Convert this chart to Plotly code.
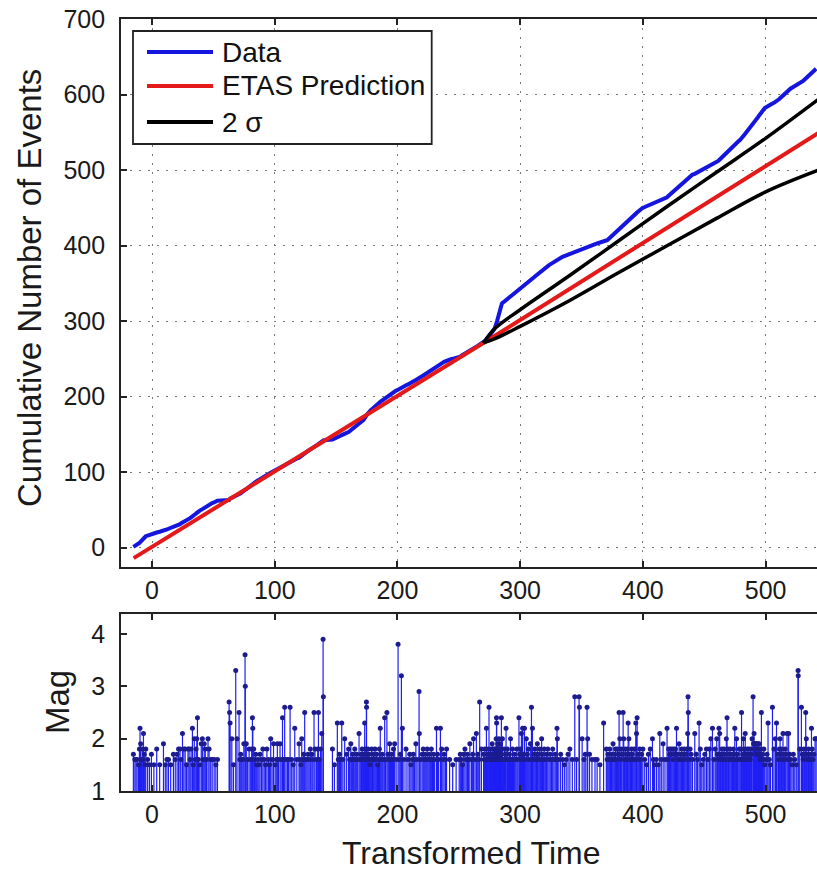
import plotly.graph_objects as go

# ---------------- data ----------------
event_time = [
    -15.2, -14.0, -13.1, -12.2, -11.0, -10.3,
    -9.8, -9.3, -8.6, -8.0, -7.4, -7.0, -6.3, -5.6, -5.1,
    -3.6, -2.1, -0.5,
    1.5, 3.8, 6.2, 9.3,
    10.8, 12.1, 13.4, 15.2, 17.4, 18.9,
    20.4, 21.6, 22.8, 23.5, 24.8, 25.9, 27.0, 28.1, 29.3,
    30.2, 31.0, 31.8, 32.9, 33.6, 34.4, 35.1, 35.9, 36.5, 37.0, 37.8, 38.9,
    40.1, 41.0, 41.7, 42.5, 43.4, 44.3, 45.6, 46.5, 47.8, 49.0,
    50.6, 52.0, 53.3,
    62.8, 63.2, 63.6, 65.0, 66.4, 68.2, 69.2,
    70.9, 71.5, 72.3, 73.1, 74.0, 74.8, 75.8, 76.0, 76.8, 77.9, 79.1,
    80.4, 81.2, 81.8, 82.1, 82.9, 83.6, 84.5, 85.3, 86.2, 87.1, 88.0, 89.2,
    90.3, 91.4, 92.5, 93.6, 94.8, 95.7, 96.7, 97.8, 99.0,
    100.3, 101.2, 102.1, 103.0, 104.3, 105.2, 106.3, 107.2, 108.1, 109.2,
    110.4, 111.3, 112.5, 113.8, 115.0, 116.3, 118.0, 119.8,
    120.5, 121.3, 122.0, 122.8, 123.6, 124.4, 125.3, 126.2, 127.1, 128.0, 129.0,
    130.2, 131.0, 132.0, 132.8, 134.0, 135.0, 135.6, 136.4, 137.3, 138.3, 139.4, 139.6,
    147.0, 148.6,
    151.0, 151.8, 152.7, 153.6, 154.6, 155.6, 157.0, 158.6,
    160.2, 161.0, 162.0, 162.7, 163.5, 164.3, 165.2, 166.0, 166.8, 167.6, 168.7, 169.5,
    170.2, 170.7, 171.2, 171.7, 172.2, 172.7, 173.3, 173.7, 174.1, 174.7, 174.8, 175.2, 175.6, 176.0, 176.5, 177.0, 177.6, 178.2, 179.0, 179.6,
    180.3, 181.0, 181.7, 182.4, 183.1, 183.8, 184.5, 185.3, 186.0, 186.8, 187.6, 188.4, 189.6,
    190.3, 191.4, 192.2, 192.9, 193.6, 194.4, 195.2, 196.0, 196.8, 197.7, 198.9,
    200.5, 201.4, 202.3, 203.2, 204.0, 205.3, 207.0, 208.6,
    210.0, 211.0, 212.0, 212.9, 213.8, 215.0, 216.0, 217.6, 217.8, 219.0,
    220.1, 221.0, 221.8, 222.6, 223.4, 224.2, 225.0, 225.9, 226.8, 227.6, 228.5, 229.4,
    230.3, 231.8, 232.6, 233.5, 235.0, 236.0, 237.0, 238.0, 239.2,
    240.0, 242.5, 245.0, 247.8,
    250.3, 251.2, 252.1, 253.0, 254.0, 255.0, 256.0, 257.0, 258.0, 259.0,
    260.4, 261.3, 262.0, 263.2, 264.3, 265.4, 266.3, 267.0, 268.4,
    270.2, 270.7, 271.2, 271.7, 272.5, 273.0, 273.5, 274.0, 274.6, 275.0, 275.4, 275.9, 276.3, 276.8, 277.2, 277.6, 278.0, 278.4, 278.8, 279.1, 279.4, 279.7,
    280.0, 280.2, 280.4, 280.6, 280.7, 280.8, 281.0, 281.2, 281.4, 281.5, 281.7, 281.9, 282.0, 282.2, 282.4, 282.5, 282.7, 282.9, 283.0, 283.2, 283.4, 283.5, 283.7, 283.9, 284.0, 284.2, 284.4, 284.5, 284.7, 284.8, 285.0, 285.5, 286.4, 287.2, 288.0, 288.5, 289.2, 289.7,
    290.5, 291.3, 292.1, 292.9, 293.8, 294.6, 295.5, 296.4, 297.3, 298.1, 299.0, 299.6,
    300.2, 301.0, 301.6, 302.0, 302.8, 303.5, 304.2, 305.0, 305.8, 306.6, 307.4, 308.3, 309.2,
    310.0, 310.6, 311.3, 312.0, 312.7, 313.3, 314.0, 314.6, 315.3, 316.0, 316.7, 317.5, 318.2, 318.9, 319.6,
    320.5, 321.5, 322.5, 323.5, 324.5, 325.5, 326.5, 327.5, 328.5, 329.4,
    330.0, 330.3, 331.5, 333.0, 334.5, 336.0, 337.5, 339.0,
    340.5, 342.5, 344.5, 346.0, 348.0, 348.3,
    350.5, 352.0, 353.0, 354.5, 355.0, 356.5, 358.5,
    361.0, 362.7, 365.0, 368.0,
    370.2, 370.9, 371.6, 372.3, 373.0, 373.7, 374.4, 375.0, 375.7, 376.4, 377.1, 377.8, 378.5, 379.3,
    380.0, 380.6, 381.2, 381.8, 382.4, 383.0, 383.9, 384.4, 385.0, 385.6, 386.2, 386.8, 387.4, 388.0, 388.6, 389.3,
    390.0, 390.7, 391.4, 392.1, 392.8, 393.5, 394.2, 394.8, 395.3, 396.0, 396.7, 397.4, 398.1, 399.0,
    400.0, 401.5, 403.0, 404.5, 406.0, 407.8, 408.6, 409.5,
    411.0, 412.5, 413.8, 415.0, 416.5, 418.0, 419.7,
    420.3, 421.0, 421.7, 422.4, 423.1, 423.8, 424.5, 425.2, 425.9, 426.6, 427.4, 428.1, 428.8, 429.5,
    430.2, 430.9, 431.6, 432.3, 433.0, 433.7, 434.4, 435.1, 435.8, 436.5, 436.8, 437.0, 437.7, 438.5, 439.3,
    440.5, 442.3, 443.5, 444.5, 445.8, 446.8, 448.0, 449.2,
    450.5, 451.8, 453.0, 454.2, 455.4, 456.7, 457.8, 459.0,
    460.2, 460.8, 461.4, 462.0, 462.6, 463.2, 463.8, 464.4, 465.0, 465.6, 466.2, 466.8, 467.4, 468.0, 468.6, 469.2, 469.8,
    470.3, 471.0, 471.7, 472.4, 473.1, 473.8, 474.4, 474.9, 475.6, 476.3, 477.0, 477.7, 478.5, 479.3,
    480.0, 480.4, 480.9, 481.4, 481.9, 482.4, 482.9, 483.4, 483.9, 484.4, 484.9, 485.4, 485.9, 486.4, 486.9, 487.4, 487.9, 488.4, 489.0, 489.8,
    490.2, 490.6, 491.0, 491.4, 491.8, 492.2, 492.6, 493.0, 493.4, 493.8, 494.2, 494.6, 495.0, 495.4, 495.8, 496.2, 496.6, 497.0, 497.5, 498.0, 498.6, 499.3,
    500.4, 501.2, 502.0, 503.0, 504.0, 505.6, 506.8, 508.0, 508.9,
    510.0, 510.6, 511.2, 511.8, 512.4, 513.0, 513.6, 514.2, 514.8, 515.4, 516.0, 516.6, 517.5, 518.2, 518.8, 519.5,
    520.5, 521.5, 522.6, 523.8, 525.0, 526.5, 526.6, 527.8, 529.2,
    530.0, 530.6, 531.2, 531.8, 532.7, 533.2, 533.8, 534.4, 535.0, 535.6, 536.2, 536.8, 537.4, 538.0, 538.7, 539.4,
    540.3, 541.2,
]

event_mag = [
    1.7, 1.6, 1.6, 1.6, 1.5, 1.8,
    2.2, 1.9, 1.6, 1.8, 1.6, 2.1, 1.7, 1.5, 1.8,
    1.6, 1.5, 1.7,
    1.5, 1.8, 1.5, 1.9,
    1.5, 1.6, 1.6, 1.5, 1.7, 1.6,
    1.7, 1.8, 1.8, 1.6, 2.1, 1.8, 1.8, 1.5, 1.8,
    1.8, 1.6, 1.8, 2.2, 1.5, 2.0, 1.6, 1.8, 2.0, 2.4, 1.6, 1.5,
    1.9, 2.0, 1.6, 1.9, 1.8, 1.6, 2.0, 1.8, 1.6, 1.6,
    1.6, 1.5, 1.6,
    2.7, 2.5, 2.3, 2.0, 1.5, 3.3, 2.0,
    2.5, 1.6, 1.7, 1.6, 1.6, 1.9, 3.6, 3.0, 1.9, 1.6, 1.8,
    1.6, 1.8, 2.4, 2.2, 1.8, 1.6, 1.7, 1.5, 1.6, 1.5, 1.7, 1.6,
    1.8, 1.6, 1.5, 1.8, 1.6, 1.5, 2.0, 1.6, 1.9,
    1.5, 1.6, 1.9, 1.6, 1.9, 1.6, 2.4, 1.6, 2.6, 1.6,
    1.6, 1.6, 2.6, 1.6, 1.5, 2.2, 1.6, 1.9,
    1.6, 1.5, 2.0, 1.6, 1.7, 2.5, 1.6, 1.6, 1.7, 1.6, 1.8,
    1.7, 1.6, 2.5, 1.8, 1.6, 1.8, 2.5, 1.6, 1.8, 2.1, 3.9, 2.8,
    1.8, 1.5,
    2.3, 1.6, 1.7, 1.6, 2.3, 1.6, 2.0, 1.7,
    1.8, 1.6, 1.9, 1.6, 1.7, 1.6, 1.8, 1.6, 1.7, 1.6, 2.1, 1.6,
    1.7, 1.6, 1.8, 1.6, 1.7, 1.6, 2.3, 1.8, 1.6, 2.7, 2.6, 1.7, 1.6, 1.8, 1.6, 1.7, 1.5, 1.6, 1.8, 1.6,
    1.7, 1.6, 1.8, 1.6, 1.7, 1.5, 1.6, 1.8, 2.2, 1.6, 1.7, 1.6, 2.4,
    1.6, 2.5, 1.7, 1.6, 1.9, 1.6, 1.7, 1.6, 1.8, 1.9, 1.6,
    3.8, 1.6, 1.7, 3.2, 2.2, 1.6, 1.8, 1.6,
    1.7, 1.5, 1.6, 1.7, 1.6, 1.9, 1.6, 2.9, 2.1, 1.6,
    1.7, 1.8, 1.6, 1.7, 1.6, 1.8, 1.6, 1.7, 1.6, 1.8, 1.6, 1.7,
    1.6, 2.2, 1.7, 1.6, 2.2, 1.8, 1.6, 1.7, 1.6,
    1.8, 1.6, 1.5, 1.6,
    1.6, 1.7, 1.6, 1.5, 1.7, 1.8, 1.6, 1.7, 1.6, 1.9,
    1.6, 1.7, 2.0, 1.6, 2.1, 1.7, 1.6, 2.7, 1.8,
    1.7, 1.6, 1.8, 1.6, 2.2, 1.7, 1.6, 1.8, 2.6, 1.7, 1.6, 1.8, 1.6, 1.7, 1.9, 1.6, 1.8, 1.6, 1.7, 1.8, 1.6, 1.7,
    1.8, 1.6, 2.0, 1.7, 2.4, 2.3, 1.6, 1.8, 1.7, 1.6, 1.9, 1.6, 1.7, 1.8, 1.6, 1.7, 2.0, 1.6, 1.8, 1.7, 1.6, 1.9, 1.6, 1.7, 1.8, 1.6, 1.7, 1.6, 2.4, 1.8, 1.7, 2.0, 1.6, 1.8, 1.7, 2.2, 1.6, 1.8,
    1.6, 1.7, 2.0, 1.6, 1.8, 1.6, 1.7, 1.6, 1.8, 1.6, 2.4, 1.7,
    1.8, 2.1, 1.6, 2.2, 1.7, 2.2, 1.6, 2.0, 1.7, 1.8, 1.6, 1.9, 2.6,
    2.2, 1.6, 1.7, 1.8, 1.6, 1.7, 1.9, 1.6, 1.7, 1.8, 1.6, 2.0, 1.7, 1.6, 1.8,
    1.6, 1.7, 1.8, 1.6, 1.7, 1.6, 1.8, 1.6, 1.7, 1.6,
    2.2, 2.0, 1.6, 1.7, 1.6, 1.5, 1.6, 1.7,
    1.8, 1.6, 2.8, 1.6, 2.8, 2.6,
    2.0, 1.6, 1.7, 2.6, 2.0, 1.7, 1.6,
    1.6, 1.6, 1.5, 2.3,
    1.8, 1.6, 1.7, 1.6, 1.8, 1.6, 1.7, 1.6, 1.9, 1.6, 1.7, 1.8, 1.6, 1.8,
    1.7, 2.5, 2.0, 1.6, 1.8, 1.7, 2.5, 2.0, 1.6, 1.8, 1.7, 1.6, 1.8, 2.3, 2.0, 1.7,
    1.6, 1.8, 1.7, 1.6, 1.8, 1.6, 2.3, 2.1, 2.4, 1.7, 1.6, 1.8, 1.6, 1.7,
    1.8, 1.6, 1.5, 1.7, 1.8, 2.0, 1.6, 1.5,
    1.6, 1.5, 2.1, 1.6, 1.9, 1.6, 2.2,
    1.6, 1.8, 1.7, 1.8, 1.7, 1.8, 1.6, 1.8, 1.7, 1.8, 2.2, 1.7, 1.6, 1.9,
    1.6, 1.7, 1.8, 1.6, 1.7, 1.8, 1.6, 1.7, 1.8, 2.1, 2.8, 2.5, 1.6, 1.8, 1.7,
    1.6, 2.1, 1.7, 1.6, 2.3, 1.8, 1.5, 1.6,
    1.7, 1.8, 1.6, 1.8, 2.0, 2.2, 1.6, 1.8,
    2.0, 1.7, 1.6, 2.2, 2.1, 1.7, 1.6, 1.8, 1.7, 1.6, 1.8, 1.7, 1.6, 2.0, 2.4, 1.8, 1.6,
    1.7, 1.8, 1.6, 1.7, 1.6, 1.8, 1.7, 2.2, 1.6, 2.0, 1.7, 1.6, 1.8, 1.6,
    1.8, 2.5, 1.6, 1.7, 2.0, 1.6, 1.8, 2.1, 1.7, 1.6, 1.8, 1.7, 1.6, 1.8, 1.7, 1.6, 1.8, 1.7, 2.0, 2.8,
    1.9, 2.1, 1.9, 1.8, 1.9, 1.9, 1.7, 1.9, 1.8, 1.9, 1.7, 1.9, 1.8, 1.6, 1.7, 1.8, 2.5, 1.6, 1.7, 1.6, 1.8, 1.5,
    1.6, 1.7, 2.3, 1.6, 1.5, 2.6, 1.8, 2.0, 2.3,
    1.7, 1.6, 1.8, 2.0, 1.7, 1.8, 1.6, 2.1, 1.7, 1.6, 1.8, 1.7, 2.1, 1.6, 2.1, 1.7,
    1.6, 1.5, 1.7, 1.6, 1.5, 3.3, 3.2, 1.8, 2.6,
    1.7, 1.6, 1.8, 1.7, 2.5, 2.0, 1.6, 1.7, 1.8, 1.6, 1.7, 1.6, 2.2, 1.8, 1.6, 1.7,
    2.0, 2.0,
]

# ETAS prediction (straight line) and 2-sigma bounds
etas_time = [-15, 271, 545]
etas_count = [-14, 272, 551]
sigma_time = [270, 280, 300, 340, 380, 420, 460, 500, 545]
sigma_upper = [271, 291, 315, 360, 406, 452, 497, 542, 596]
sigma_lower = [271, 277, 293, 327, 364, 400, 436, 471, 501]

x_ticks = [0, 100, 200, 300, 400, 500]
y_ticks_top = [0, 100, 200, 300, 400, 500, 600, 700]
y_ticks_mag = [1, 2, 3, 4]

# ---------------- derived ----------------
cum_count = list(range(1, len(event_time) + 1))
stem_x, stem_y = [], []
for t, m in zip(event_time, event_mag):
    stem_x += [t, t, None]
    stem_y += [0, m, None]

BLUE = "#1515e0"
RED = "#e41a1a"
FONT = "Liberation Sans, Arial, Helvetica, sans-serif"

fig = go.Figure()
fig.add_trace(go.Scatter(x=event_time, y=cum_count, mode="lines",
                         line=dict(color=BLUE, width=4), xaxis="x", yaxis="y"))
fig.add_trace(go.Scatter(x=etas_time, y=etas_count, mode="lines",
                         line=dict(color=RED, width=4), xaxis="x", yaxis="y"))
fig.add_trace(go.Scatter(x=sigma_time, y=sigma_upper, mode="lines",
                         line=dict(color="black", width=3.5, shape="spline"), xaxis="x", yaxis="y"))
fig.add_trace(go.Scatter(x=sigma_time, y=sigma_lower, mode="lines",
                         line=dict(color="black", width=3.5, shape="spline"), xaxis="x", yaxis="y"))
fig.add_trace(go.Scatter(x=stem_x, y=stem_y, mode="lines",
                         line=dict(color="#1f1ff5", width=1.2), xaxis="x2", yaxis="y2"))
fig.add_trace(go.Scatter(x=event_time, y=event_mag, mode="markers",
                         marker=dict(color="#1c1c90", size=5), xaxis="x2", yaxis="y2"))

W, H = 817, 871
L, R, T, B = 121, 0, 19, 80
PH = H - T - B
PW = W - L - R


def px(xp):
    return (xp - L) / PW


def py(yp):
    return (H - B - yp) / PH


axis_common = dict(
    showline=True, linecolor="#222222", linewidth=1.8,
    ticks="inside", ticklen=6, tickwidth=1.5, tickcolor="#222222",
    tickfont=dict(family=FONT, size=25, color="#1a1a1a"),
    zeroline=False,
)
xr = [-25.3, 541.9]

fig.update_layout(
    width=W, height=H,
    margin=dict(l=L, r=R, t=T, b=B),
    paper_bgcolor="white", plot_bgcolor="white",
    showlegend=False,
    xaxis=dict(domain=[0, 1], anchor="y", range=xr, tickvals=x_ticks, mirror="ticks",
               showgrid=True, gridcolor="#7a7a7a", griddash="2px,7px", gridwidth=1,
               ticklabelstandoff=0, **axis_common),
    yaxis=dict(domain=[py(566.7), 1], anchor="x", range=[-25.3, 700], tickvals=y_ticks_top,
               mirror=False, showgrid=True, gridcolor="#7a7a7a", griddash="2px,7px", gridwidth=1,
               ticklabelstandoff=9, **axis_common),
    xaxis2=dict(domain=[0, 1], anchor="y2", range=xr, tickvals=x_ticks, mirror="ticks",
                showgrid=False, ticklabelstandoff=0, **axis_common),
    yaxis2=dict(domain=[0, py(614)], anchor="x2", range=[1, 4.38], tickvals=y_ticks_mag,
                mirror=False, showgrid=False, ticklabelstandoff=9, **axis_common),
)

shapes = [
    dict(type="rect", xref="paper", yref="paper", x0=px(133), x1=px(431.7), y0=py(144), y1=py(31),
         line=dict(color="#222222", width=1.8), fillcolor="white", layer="above"),
]
legend_items = [("Data", BLUE, 52), ("ETAS Prediction", RED, 86), ("2 σ", "black", 122)]
annotations = []
for label, col, yy in legend_items:
    shapes.append(dict(type="line", xref="paper", yref="paper", x0=px(147), x1=px(213),
                       y0=py(yy), y1=py(yy), line=dict(color=col, width=4), layer="above"))
    annotations.append(dict(text=label, xref="paper", yref="paper", x=px(220), y=py(yy),
                            xanchor="left", yanchor="middle", showarrow=False,
                            font=dict(family=FONT, size=28, color="#111111")))

annotations += [
    dict(text="Cumulative Number of Events", xref="paper", yref="paper", x=px(29), y=py(288),
         textangle=-90, xanchor="center", yanchor="middle", showarrow=False,
         font=dict(family=FONT, size=33, color="#1a1a1a")),
    dict(text="Mag", xref="paper", yref="paper", x=px(57), y=py(702),
         textangle=-90, xanchor="center", yanchor="middle", showarrow=False,
         font=dict(family=FONT, size=33, color="#1a1a1a")),
    dict(text="Transformed Time", xref="paper", yref="paper", x=px(471), y=py(853),
         xanchor="center", yanchor="middle", showarrow=False,
         font=dict(family=FONT, size=32, color="#1a1a1a")),
]
fig.update_layout(shapes=shapes, annotations=annotations)

fig.write_html("out.html", config={"displayModeBar": False},
               post_script="document.body.style.margin='0';document.body.style.overflow='hidden';")
